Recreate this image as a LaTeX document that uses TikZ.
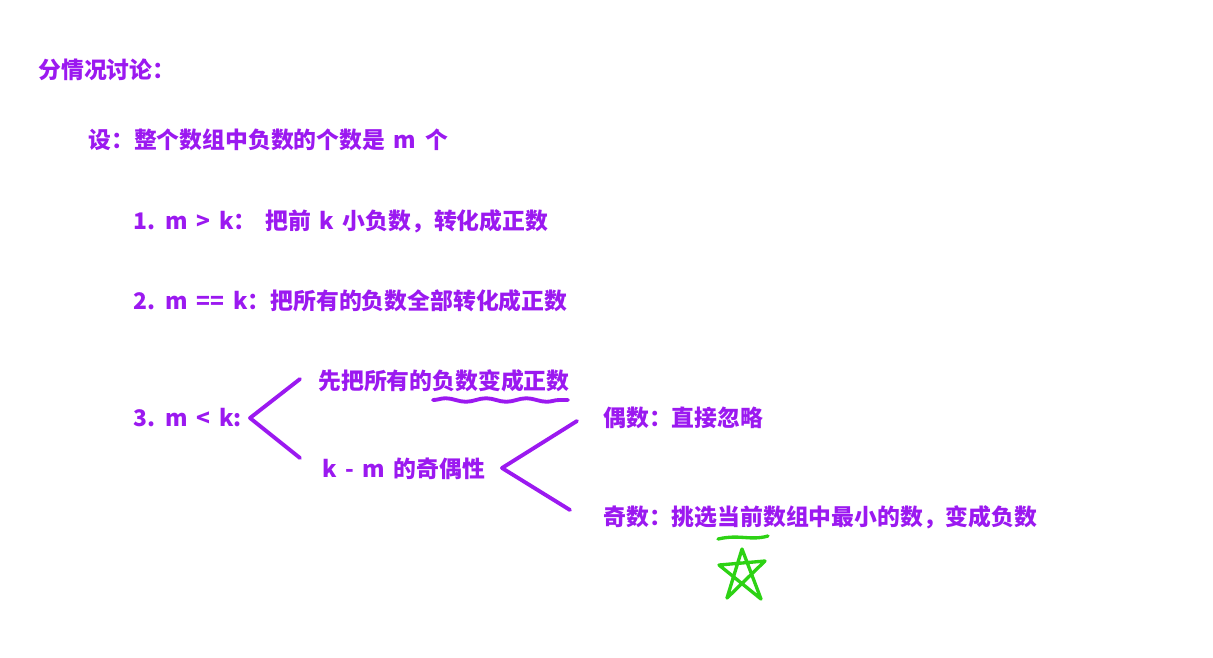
\documentclass[tikz,border=0pt]{standalone}
\usepackage{fontspec}
\setmainfont{Noto Sans CJK SC}[WordSpace=1.65]
\usetikzlibrary{decorations.pathmorphing}
\definecolor{notepurple}{RGB}{155,25,240}
\definecolor{notegreen}{RGB}{45,210,20}
\begin{document}
\begin{tikzpicture}[
        x=0.02cm, y=-0.02cm,
        note_text/.style={anchor=west, inner sep=0pt, text=notepurple, font=\fontsize{13pt}{15pt}\selectfont\bfseries},
        pen_line/.style={draw=notepurple, line width=2.2pt, line cap=round, line join=round},
        wave_line/.style={draw=notepurple, line width=2.2pt, line cap=round, decorate, decoration={snake, amplitude=1pt, segment length=23pt}},
        green_pen/.style={draw=notegreen, line width=1.9pt, line cap=round, line join=round}
    ]
        \useasboundingbox (0,0) rectangle (1213,657);

        % Heading and assumption
        \node[note_text] (title) at (38,70) {分情况讨论：};
        \node[note_text] (assume) at (88,140) {设：整个数组中负数的个数是 m 个};

        % The three cases
        \node[note_text] (case_one) at (133,221) {1. m > k：\ 把前 k 小负数，转化成正数};
        \node[note_text] (case_two) at (133,301) {2. m == k：把所有的负数全部转化成正数};
        \node[note_text] (case_three) at (133,418) {3. m < k:};

        % Branches of case three
        \node[note_text] (flip_all) at (318,381) {先把所有的负数变成正数};
        \node[note_text] (parity) at (322,469) {k - m 的奇偶性};
        \node[note_text] (even) at (603,418) {偶数：直接忽略};
        \node[note_text] (odd) at (603,517) {奇数：挑选当前数组中最小的数，变成负数};

        % Hand drawn brackets
        \coordinate (tip_one) at (250,418);
        \draw[pen_line] (300,379) -- (tip_one) -- (300,458);
        \coordinate (tip_two) at (502,468);
        \draw[pen_line] (577,421) -- (tip_two) -- (570,510);

        % Wavy mark under the key words
        \draw[wave_line] (433,400) -- (568,400);

        % Green mark under the odd case
        \draw[green_pen] (718,539) .. controls (740,534) and (750,541) .. (768,536);
        \draw[green_pen] (742,549) -- (727,598) -- (765,561) -- (719,565) -- (761,599) -- cycle;

    \end{tikzpicture}
\end{document}
